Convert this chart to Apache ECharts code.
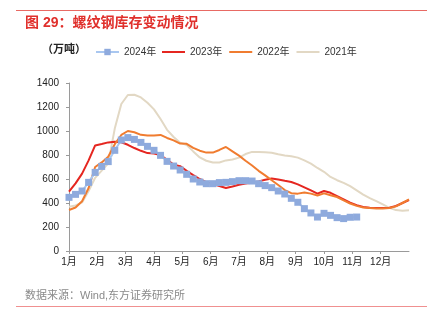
<!DOCTYPE html>
<html>
<head>
<meta charset="utf-8">
<script src="https://cdn.jsdelivr.net/npm/echarts@6/dist/echarts.min.js"></script>
<style>
    html, body { margin: 0; padding: 0; background: #fff; }
    #chart { width: 435px; height: 323px; }
</style>
</head>
<body>
<div id="chart"></div>
<script>
// 螺纹钢库存 周度数据（万吨），每年按周排列
var monthLabels = ["1月","2月","3月","4月","5月","6月","7月","8月","9月","10月","11月","12月"];
var weeksPerYear = 52;

var s2024 = [447,472,500,572,655,705,745,839,925,945,930,905,872,839,797,747,708,675,639,600,
    575,561,561,570,572,578,586,586,583,561,545,528,500,475,439,406,353,317,283,314,297,278,270,281,283];
var s2023 = [494,564,645,755,880,892,905,911,906,885,858,835,816,812,800,760,720,707,668,633,
    600,574,557,541,525,538,552,562,569,580,594,605,596,585,575,555,530,505,478,500,485,458,430,
    402,382,367,360,358,358,360,375,400,425];
var s2022 = [342,362,415,525,700,738,786,890,967,1000,990,968,963,962,967,942,922,895,893,860,
    836,820,820,842,867,830,795,752,712,668,630,590,550,508,482,478,488,478,462,480,465,450,422,
    396,376,362,358,355,355,358,372,400,430];
var s2021 = [368,380,405,500,610,670,730,1020,1225,1300,1302,1280,1235,1180,1100,1010,950,903,883,830,
    780,752,737,738,755,762,778,808,826,826,822,818,806,796,790,778,755,728,692,660,617,590,568,
    540,505,470,440,415,388,360,341,336,339];

// 周序号 -> 月份坐标
function toPoints(arr){
    var out = [];
    for(var i=0;i<arr.length;i++){
        out.push([i*12/weeksPerYear, arr[i]]);
    }
    return out;
}

var fontFamily = "'Liberation Sans', 'Noto Sans CJK SC', sans-serif";
var legendText = { fontSize: 10, color: '#333', fontFamily: fontFamily };
var chart = echarts.init(document.getElementById('chart'));

var option = {
    animation: false,
    textStyle: { fontFamily: fontFamily },
    graphic: [
        { type: 'line', shape: { x1: 16, y1: 10.5, x2: 427, y2: 10.5 }, style: { stroke: '#e86a64', lineWidth: 1 } },
        { type: 'text', left: 25, top: 16, style: { text: '图 29：螺纹钢库存变动情况', fill: '#e0302c', font: 'bold 14px ' + fontFamily } },
        { type: 'text', left: 42, top: 44, style: { text: '（万吨）', fill: '#222', font: 'bold 11px ' + fontFamily } },
        { type: 'text', left: 25, top: 290, style: { text: '数据来源：Wind,东方证券研究所', fill: '#8a8a8a', font: '11px ' + fontFamily } },
        { type: 'line', shape: { x1: 16, y1: 306.5, x2: 427, y2: 306.5 }, style: { stroke: '#f09090', lineWidth: 1 } }
    ],
    // 2024年带方块标记，其余年份只画线段
    legend: [
        {
            left: 95, top: 47, padding: 0,
            itemWidth: 23, itemHeight: 8,
            data: ['2024年'],
            textStyle: legendText
        },
        {
            left: 162, top: 47, padding: 0,
            itemWidth: 23, itemHeight: 2, itemGap: 7,
            icon: 'rect',
            data: ['2023年','2022年','2021年'],
            textStyle: legendText
        }
    ],
    grid: { left: 69, right: 26, top: 83, bottom: 72 },
    xAxis: {
        type: 'value',
        min: 0,
        max: 12,
        interval: 1,
        axisLine: { lineStyle: { color: '#9a9a9a' } },
        axisTick: { show: true, length: 3, lineStyle: { color: '#9a9a9a' } },
        axisLabel: {
            color: '#222',
            fontSize: 10,
            margin: 6,
            showMaxLabel: false,
            formatter: function(v){ return monthLabels[v] || ''; }
        },
        splitLine: { show: false }
    },
    yAxis: {
        type: 'value',
        min: 0,
        max: 1400,
        interval: 200,
        axisLine: { show: true, lineStyle: { color: '#9a9a9a' } },
        axisTick: { show: true, length: 3, lineStyle: { color: '#9a9a9a' } },
        axisLabel: { color: '#222', fontSize: 10, margin: 10, formatter: function(v){ return String(v); } },
        splitLine: { show: false }
    },
    series: [
        {
            name: '2021年', type: 'line', data: toPoints(s2021), symbol: 'none', z: 1,
            lineStyle: { color: '#e2d8c4', width: 2 }, itemStyle: { color: '#e2d8c4' }
        },
        {
            name: '2023年', type: 'line', data: toPoints(s2023), symbol: 'none', z: 2,
            lineStyle: { color: '#e52620', width: 2 }, itemStyle: { color: '#e52620' }
        },
        {
            name: '2022年', type: 'line', data: toPoints(s2022), symbol: 'none', z: 3,
            lineStyle: { color: '#f07c30', width: 2 }, itemStyle: { color: '#f07c30' }
        },
        {
            name: '2024年', type: 'line', data: toPoints(s2024), z: 4,
            symbol: 'rect', symbolSize: 7, showSymbol: true,
            lineStyle: { color: '#a9c7f0', width: 2 },
            itemStyle: { color: '#8eaadd', borderWidth: 0 }
        }
    ]
};

chart.setOption(option);
</script>
</body>
</html>
